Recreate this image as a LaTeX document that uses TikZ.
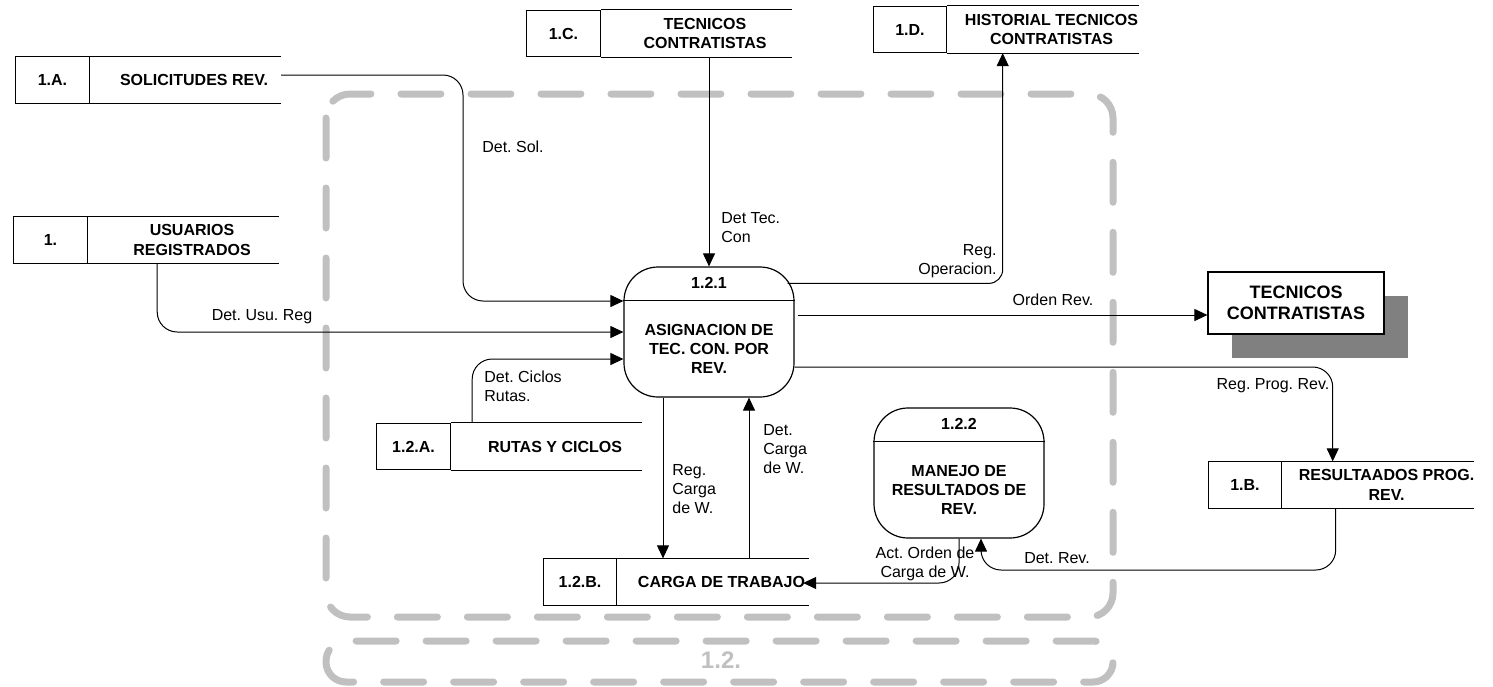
\documentclass[tikz,border=0pt]{standalone}
\usepackage{fontspec}
\setmainfont{Liberation Sans}
\usepackage{tikz}
\usetikzlibrary{arrows.meta,positioning,shadows}
\definecolor{framegray}{RGB}{192,192,192}
\definecolor{shadowgray}{RGB}{128,128,128}
\frenchspacing

\begin{document}
\begin{tikzpicture}[x=0.5pt, y=-0.5pt,
		idbox/.style={draw, line width=0.6pt, minimum width=36.75pt, minimum height=23.25pt, inner sep=0pt, font=\fontsize{8}{9.6}\selectfont\bfseries},
		storetxt/.style={minimum width=103.75pt, minimum height=23.25pt, inner sep=0pt, align=center, font=\fontsize{8}{9.6}\selectfont\bfseries},
		storeline/.style={line width=0.6pt},
		proc/.style={draw, line width=0.6pt, rounded corners=17pt, minimum width=85pt, minimum height=65pt, inner sep=0pt},
		proctxt/.style={align=center, inner sep=0pt, font=\fontsize{8}{9.5}\selectfont\bfseries},
		flow/.style={line width=0.5pt, rounded corners=10pt, -{Triangle[length=6.5pt, width=6pt]}},
		lbl/.style={inner sep=0pt, font=\fontsize{8}{9.5}\selectfont},
		bndry/.style={draw=framegray, line width=3.5pt, line cap=round, dash pattern=on 20pt off 15pt}]

		\useasboundingbox (0,0) rectangle (1493,686);

		\draw[bndry, rounded corners=12pt] (326,94) rectangle (1113,617);
		\draw[bndry, rounded corners=10pt] (326,641) rectangle (1113,682);
		\node[inner sep=0pt, text=framegray, font=\fontsize{12}{14}\selectfont\bfseries] (fr-lbl) at (721,660) {1.2.};

		\node[idbox] (sa-id) at (52.5,80) {1.A.};
		\node[storetxt, right=0pt of sa-id] (sa) {SOLICITUDES REV.};

		\node[idbox] (su-id) at (50.5,240) {1.};
		\node[storetxt, right=0pt of su-id] (su) {USUARIOS\\REGISTRADOS};

		\node[idbox] (sc-id) at (563.5,33.5) {1.C.};
		\node[storetxt, right=0pt of sc-id] (sc) {TECNICOS\\CONTRATISTAS};

		\node[idbox] (sd-id) at (910,29.5) {1.D.};
		\node[storetxt, right=0pt of sd-id] (sd) {HISTORIAL TECNICOS\\CONTRATISTAS};

		\node[idbox] (sra-id) at (413.5,446.5) {1.2.A.};
		\node[storetxt, right=0pt of sra-id] (sra) {RUTAS Y CICLOS};

		\node[idbox] (srb-id) at (580,582) {1.2.B.};
		\node[storetxt, right=0pt of srb-id] (srb) {CARGA DE TRABAJO};

		\node[idbox] (sb-id) at (1245,485) {1.B.};
		\node[storetxt, right=0pt of sb-id] (sb) {RESULTAADOS PROG.\\REV.};

		\foreach \s in {sa,su,sc,sd,sra,srb,sb}
			\draw[storeline] (\s.north west) -- ([xshift=-8.5pt]\s.north east) (\s.south west) -- ([xshift=-8.5pt]\s.south east);

		\node[proc] (p1) at (709,332) {};
		\node[proctxt] (p1-num) at ([yshift=-8.25pt]p1.north) {1.2.1};
		\node[proctxt] (p1-txt) at ([yshift=-8.25pt]p1.center) {ASIGNACION DE\\TEC. CON. POR\\REV.};
		\draw[storeline] ([yshift=-17pt]p1.north west) -- ([yshift=-17pt]p1.north east);

		\node[proc] (p2) at (959,473) {};
		\node[proctxt] (p2-num) at ([yshift=-8.25pt]p2.north) {1.2.2};
		\node[proctxt] (p2-txt) at ([yshift=-8.25pt]p2.center) {MANEJO DE\\RESULTADOS DE\\REV.};
		\draw[storeline] ([yshift=-17pt]p2.north west) -- ([yshift=-17pt]p2.north east);

		\node[draw, line width=0.6pt, fill=white, minimum width=88pt, minimum height=31pt, align=center, font=\fontsize{9}{10.5}\selectfont\bfseries, general shadow={fill=shadowgray, shadow xshift=12pt, shadow yshift=-12pt}] (ext) at (1296,303) {TECNICOS\\CONTRATISTAS};

		\coordinate (rc-top) at ([xshift=-23pt]p1.south);
		\coordinate (dc-top) at ([xshift=20pt]p1.south);

		\draw[flow] ([xshift=-8.5pt,yshift=2.5pt]sa.east) -| (463,301) -- ([yshift=15.5pt]p1.west);
		\draw[flow] ([xshift=-17.4pt]su.south) |- (p1.west);
		\draw[flow] ([xshift=-41.4pt]sra.north) |- ([yshift=-13.5pt]p1.west);
		\draw[flow] (sc.south -| p1.north) -- (p1.north);
		\draw[flow, rounded corners=7pt] ([xshift=-3.5pt,yshift=-8.5pt]p1.north east) -| ([xshift=-24.4pt]sd.south);
		\draw[flow] ([xshift=1.5pt,yshift=8.5pt]p1.east) -- ([yshift=-6pt]ext.west);
		\draw[flow] ([yshift=-17.5pt]p1.east) -| ([xshift=-26.9pt]sb.north);
		\draw[flow] (rc-top) -- (rc-top |- srb.north);
		\draw[flow] (dc-top |- srb.north) -- (dc-top);
		\draw[flow] (p2.south) |- ([xshift=-11.25pt,yshift=-0.5pt]srb.east);
		\draw[flow] ([xshift=-25.4pt]sb.south) |- (1100,570) -| ([xshift=11pt]p2.south);

		\node[lbl] (l-sol) at (513,147) {Det. Sol.};
		\node[lbl, anchor=west, align=left] (l-tec) at (721,228) {Det Tec.\\Con};
		\node[lbl, anchor=east, align=right] (l-op) at (997,261) {Reg.\\Operacion.};
		\node[lbl] (l-usu) at (262,317) {Det. Usu. Reg};
		\node[lbl, anchor=west, align=left] (l-cic) at (484,386) {Det. Ciclos\\Rutas.};
		\node[lbl] (l-ord) at (1053,300) {Orden Rev.};
		\node[lbl] (l-prog) at (1273,386) {Reg. Prog. Rev.};
		\node[lbl, anchor=west, align=left] (l-dcw) at (763,449) {Det.\\Carga\\de W.};
		\node[lbl, anchor=west, align=left] (l-rcw) at (672,489) {Reg.\\Carga\\de W.};
		\node[lbl, align=center] (l-act) at (925,564) {Act. Orden de\\Carga de W.};
		\node[lbl] (l-rev) at (1057,558) {Det. Rev.};
	\end{tikzpicture}
\end{document}
